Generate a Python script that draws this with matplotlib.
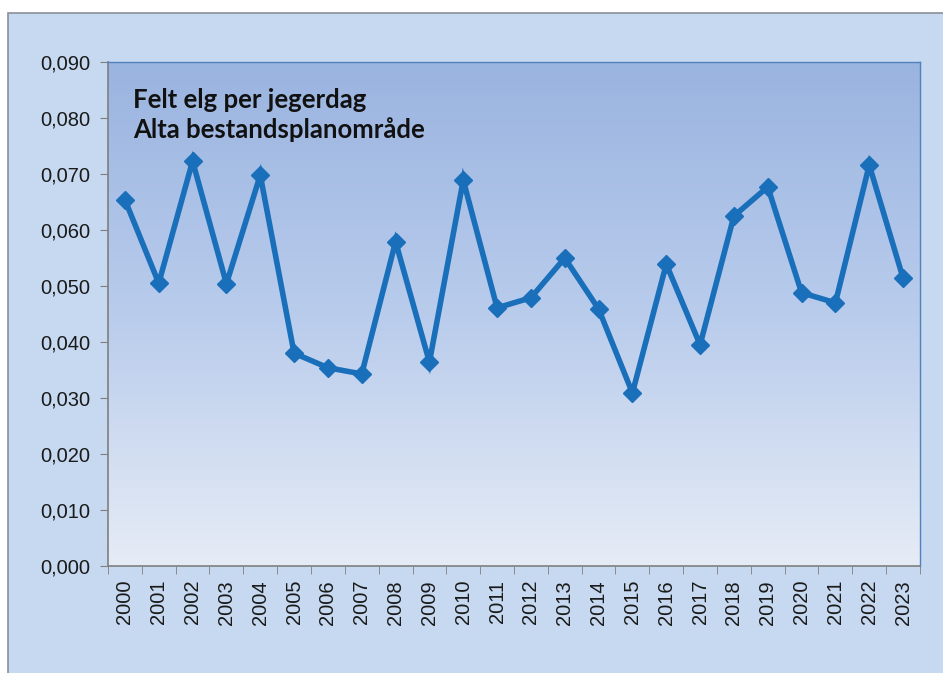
import numpy as np
import matplotlib
matplotlib.use("Agg")
import matplotlib.pyplot as plt
from matplotlib.patches import Rectangle
from matplotlib.colors import LinearSegmentedColormap
from matplotlib.ticker import FuncFormatter, MultipleLocator, FixedLocator

# data
years = [str(y) for y in range(2000, 2024)]
felt_per_dag = [0.0654, 0.0505, 0.0723, 0.0504, 0.0698, 0.0380, 0.0354, 0.0343,
                0.0579, 0.0364, 0.0689, 0.0461, 0.0479, 0.0550, 0.0459, 0.0309,
                0.0539, 0.0395, 0.0625, 0.0677, 0.0488, 0.0470, 0.0716, 0.0514]
title_lines = ["Felt elg per jegerdag", "Alta bestandsplanområde"]

W, H = 943, 673
fig = plt.figure(figsize=(W / 100, H / 100), dpi=100)
fig.patch.set_facecolor("white")

# outer chart box (drawn below the axes)
fig.patches.append(Rectangle((8 / W, -0.01), 1.0, 1 - 13 / H + 0.01,
                             transform=fig.transFigure, facecolor="#C6D9F0",
                             edgecolor="#8A8F98", linewidth=1.2, zorder=-1))

ax = fig.add_axes([108 / W, 1 - 566 / H, (920 - 108) / W, (566 - 62) / H])
ax.set_facecolor("none")

# vertical gradient in plot area: darker at the top
cmap = LinearSegmentedColormap.from_list("bg", ["#9AB4E0", "#B9CCEC", "#E6ECF6"])
grad = np.linspace(0, 1, 256).reshape(-1, 1)
ax.imshow(grad, cmap=cmap, aspect="auto", extent=[0, 1, 0, 1],
          origin="upper", transform=ax.transAxes, zorder=0)

x = np.arange(len(years))
ax.plot(x, felt_per_dag, color="#1A6FBA", linewidth=4.0, marker="D",
        markersize=9.5, zorder=3, solid_joinstyle="miter")

ax.set_xlim(-0.5, len(years) - 0.5)
ax.set_ylim(0, 0.09)
ax.yaxis.set_major_locator(MultipleLocator(0.01))
ax.yaxis.set_major_formatter(FuncFormatter(lambda v, p: f"{v:.3f}".replace(".", ",")))

ax.set_xticks(x)
ax.set_xticklabels(years, rotation=90)
ax.xaxis.set_minor_locator(FixedLocator(np.arange(-0.5, len(years), 1.0)))
ax.tick_params(axis="x", which="major", length=0, pad=10)
ax.tick_params(axis="x", which="minor", length=6, color="#7F7F7F", direction="out")
ax.tick_params(axis="y", length=6, color="#7F7F7F", direction="out", pad=7)
for lab in ax.get_xticklabels() + ax.get_yticklabels():
    lab.set_fontfamily("Liberation Sans")
    lab.set_fontsize(14.5)
    lab.set_color("#1A1A1A")

for side in ["left", "bottom"]:
    ax.spines[side].set_color("#7F7F7F")
    ax.spines[side].set_linewidth(1.2)
for side in ["top", "right"]:
    ax.spines[side].set_color("#4F81BD")
    ax.spines[side].set_linewidth(1.0)

ax.text(0.031, 0.948, "\n".join(title_lines), transform=ax.transAxes,
        fontsize=18.5, fontweight="bold", family="Lato", color="#111111",
        va="top", ha="left", linespacing=1.22, zorder=4)

fig.savefig("out.png", dpi=100, facecolor=fig.get_facecolor())
